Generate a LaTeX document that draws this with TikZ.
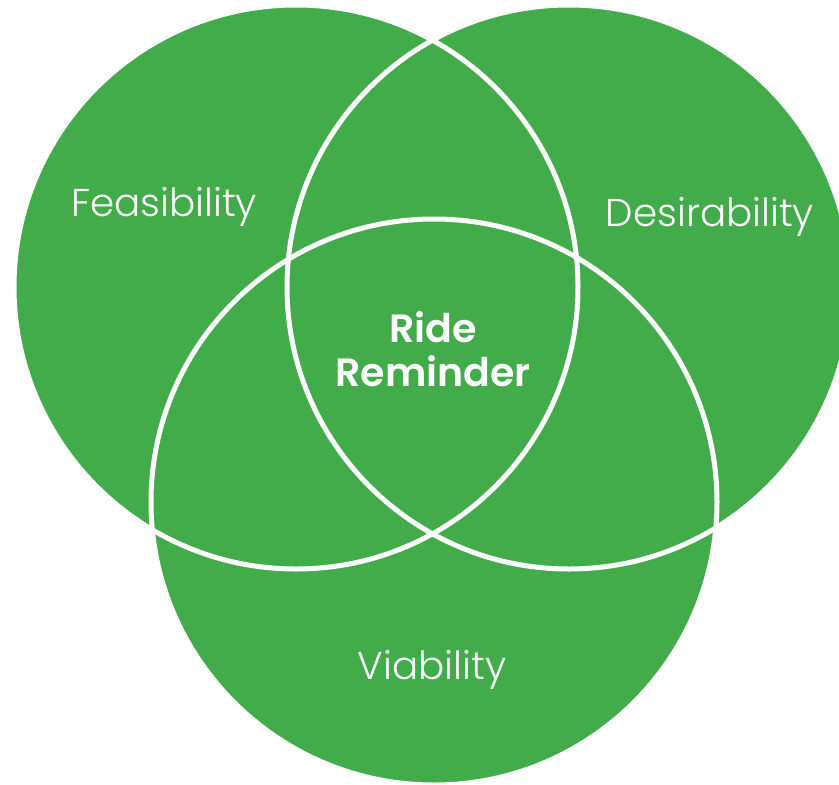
\documentclass[tikz,border=0pt]{standalone}
\usepackage{fontspec}
\setmainfont{Poppins}[UprightFont=* Light, BoldFont=* SemiBold]
\definecolor{vennGreen}{RGB}{66,172,74}
\begin{document}
\begin{tikzpicture}[x=1pt,y=-1pt,
  setfill/.style={fill=vennGreen},
  setring/.style={draw=white,line width=5pt},
  setlabel/.style={text=white,font=\fontsize{38.8}{44}\selectfont,inner sep=0pt},
  corelabel/.style={text=white,font=\bfseries\fontsize{39.5}{44}\selectfont,align=center,inner sep=0pt}]
  \useasboundingbox (0,0) rectangle (839,785);
  \begin{scope}
    \clip (0,0) rectangle (839,785);
    % the three sets, filled first, then their outlines on top
    \fill[setfill] (296,287) circle (282);
    \fill[setfill] (569,287) circle (282);
    \fill[setfill] (434,502) circle (283);
    \draw[setring] (296,287) circle (282);
    \draw[setring] (569,287) circle (282);
    \draw[setring] (434,502) circle (283);
  \end{scope}
  \node[setlabel] (feas) at (164,207) {Feasibility};
  \node[setlabel] (desir) at (710,217) {Desirability};
  \node[setlabel] (viab) at (432,670) {Viability};
  \node[corelabel] (core) at (433,349) {Ride\\Reminder};
\end{tikzpicture}
\end{document}
